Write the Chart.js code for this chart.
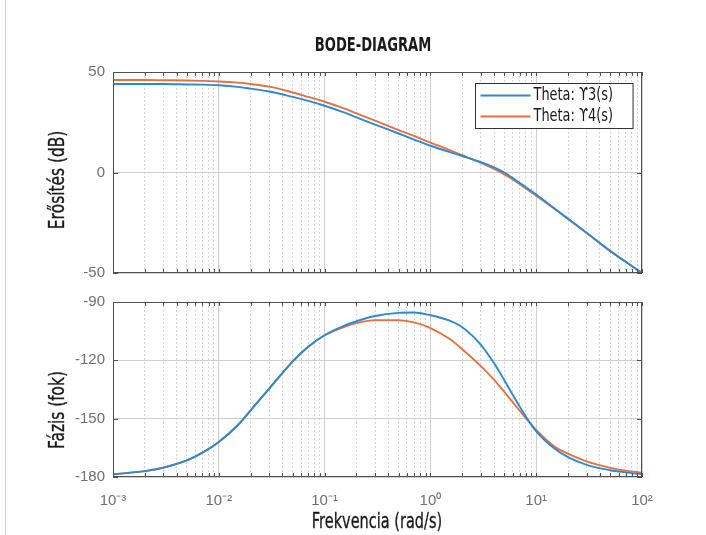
<!DOCTYPE html>
<html>
<head>
<meta charset="utf-8">
<script src="https://cdn.jsdelivr.net/npm/chart.js@4.4.1/dist/chart.umd.min.js"></script>
<style>
  html, body { margin: 0; padding: 0; background: #fff; }
  body { width: 706px; height: 535px; position: relative; overflow: hidden; }
  .edge { position: absolute; left: 5px; top: 0; height: 535px; border-left: 1px solid #d0d0d0; }
  .lbl {
    position: absolute; white-space: nowrap; color: #1a1a1a;
    font-family: "DejaVu Sans", sans-serif; font-size: 22px; line-height: 1;
    -webkit-text-stroke: 0.35px #1a1a1a;
  }
  #title { left: 373px; top: 44px; font-weight: bold; font-size: 19px; -webkit-text-stroke: 0;
    transform: translate(-50%, -50%) scaleX(0.69); }
  #xTitle { left: 377px; top: 521px; transform: translate(-50%, -50%) scaleX(0.66); }
  #gainTitle { left: 57px; top: 180px; transform: translate(-50%, -50%) rotate(-90deg) scaleX(0.7); }
  #phaseTitle { left: 57px; top: 410px; transform: translate(-50%, -50%) rotate(-90deg) scaleX(0.7); }
  canvas { position: absolute; left: 0; }
  #gain { top: 0; }
  #phase { top: 285px; }
</style>
</head>
<body>
<div class="edge"></div>
<canvas id="gain" width="706" height="290"></canvas>
<canvas id="phase" width="706" height="250"></canvas>
<div class="lbl" id="title">BODE-DIAGRAM</div>
<div class="lbl" id="gainTitle">Erősítés (dB)</div>
<div class="lbl" id="phaseTitle">Fázis (fok)</div>
<div class="lbl" id="xTitle">Frekvencia (rad/s)</div>
<script>
// frekvencia (rad/s)
const freqs = [0.001, 0.002, 0.003, 0.005, 0.007, 0.01, 0.015, 0.02, 0.03, 0.05, 0.07,
  0.1, 0.15, 0.2, 0.3, 0.5, 0.7, 1, 1.5, 2, 3, 4, 5, 6, 7, 8, 10, 15, 20, 30, 50, 70, 100];

// erősítés (dB)
const gainY3 = [44.0, 44.0, 44.0, 43.8, 43.7, 43.4, 42.6, 41.7, 40.3, 37.6, 35.6,
  33.2, 30.0, 27.4, 23.8, 19.4, 16.4, 13.3, 10.3, 8.2, 5.2, 2.6, 0.0, -2.8, -5.2, -7.3,
  -11.0, -18.0, -23.0, -30.0, -39.0, -44.4, -50.0];
const gainY4 = [46.0, 46.0, 45.9, 45.8, 45.6, 45.3, 44.7, 44.0, 42.7, 39.8, 37.6,
  35.2, 32.0, 29.4, 25.8, 21.1, 18.2, 14.9, 11.3, 8.6, 4.8, 1.8, -0.9, -3.4, -5.8, -7.9,
  -11.5, -18.2, -23.1, -30.1, -39.0, -44.4, -50.0];

// fázis (fok)
const phaseY3 = [-178.6, -177.0, -175.2, -171.5, -167.5, -162.0, -153.5, -145.7, -134.5, -120.5, -113.0,
  -107.1, -102.4, -99.9, -97.2, -95.6, -95.4, -96.8, -99.5, -103.0, -112.0, -121.5, -130.2, -137.7, -143.9, -149.0,
  -156.5, -165.5, -169.8, -173.8, -176.5, -177.6, -178.6];
const phaseY4 = [-178.6, -177.0, -175.2, -171.5, -167.5, -162.0, -153.5, -145.7, -134.5, -120.5, -113.0,
  -107.1, -103.0, -100.9, -99.3, -99.4, -100.5, -103.4, -108.8, -114.3, -123.0, -130.0, -136.2, -141.5, -146.0, -149.8,
  -155.8, -164.5, -168.0, -172.0, -175.3, -176.7, -177.8];

const legendLabels = ["Theta: \u03D23(s)", "Theta: \u03D24(s)"];
const decades = [0.001, 0.01, 0.1, 1, 10, 100];
const decadeLabels = ["10\u207B\u00B3", "10\u207B\u00B2", "10\u207B\u00B9", "10\u2070", "10\u00B9", "10\u00B2"];
const gainTicks = [-50, 0, 50];
const phaseTicks = [-180, -150, -120, -90];

const BLUE = "#2b8ad2";
const ORANGE = "#e8703f";
const PLAIN = "'Liberation Sans', Arial, sans-serif";

// 1..9 x 10^n osztások a dekádok között
const xTickValues = [];
decades.forEach((d, i) => {
  if (i === decades.length - 1) { xTickValues.push(d); return; }
  for (let m = 1; m <= 9; m++) xTickValues.push(+(m * d).toPrecision(3));
});

function isDecade(v) {
  const l = Math.log10(v);
  return Math.abs(l - Math.round(l)) < 1e-6;
}

function pairs(ys) {
  return freqs.map((f, i) => ({ x: f, y: ys[i] }));
}

function xScale(showLabels) {
  return {
    type: "logarithmic",
    min: decades[0],
    max: decades[decades.length - 1],
    afterBuildTicks: (s) => { s.ticks = xTickValues.map((v) => ({ value: v })); },
    afterFit: (s) => { s.height = showLabels ? 58 : 0; },
    ticks: {
      display: showLabels,
      autoSkip: false,
      maxRotation: 0,
      padding: 15,
      color: "#707070",
      font: { family: PLAIN, size: 15 },
      callback: (v) => {
        const k = decades.findIndex((d) => Math.abs(d - v) / d < 1e-6);
        return k >= 0 ? decadeLabels[k] : "";
      },
    },
    grid: {
      drawTicks: false,
      lineWidth: 1,
      color: (c) => (c.tick && isDecade(c.tick.value) ? "#cfcfcf" : "#d6d6d6"),
    },
    border: {
      display: false,
      dash: (c) => (c.tick && isDecade(c.tick.value) ? [] : [2, 2]),
    },
  };
}

function yScale(vals) {
  return {
    min: vals[0],
    max: vals[vals.length - 1],
    afterBuildTicks: (s) => { s.ticks = vals.map((v) => ({ value: v })); },
    afterFit: (s) => { s.width = 113; },
    ticks: {
      padding: 8,
      color: "#707070",
      font: { family: PLAIN, size: 15 },
      callback: (v) => String(v),
    },
    grid: { drawTicks: false, color: "#cfcfcf", lineWidth: 1 },
    border: { display: false },
  };
}

// keret + befelé mutató osztásjelek
const axesBox = {
  id: "axesBox",
  afterDraw(chart) {
    const { ctx, chartArea: a, scales } = chart;
    ctx.save();
    ctx.strokeStyle = "#505050";
    ctx.lineWidth = 1;
    ctx.beginPath();
    scales.x.ticks.forEach((t) => {
      const x = Math.round(scales.x.getPixelForValue(t.value)) + 0.5;
      ctx.moveTo(x, a.bottom); ctx.lineTo(x, a.bottom - 4);
      ctx.moveTo(x, a.top); ctx.lineTo(x, a.top + 4);
    });
    scales.y.ticks.forEach((t) => {
      const y = Math.round(scales.y.getPixelForValue(t.value)) + 0.5;
      ctx.moveTo(a.left, y); ctx.lineTo(a.left + 5, y);
      ctx.moveTo(a.right, y); ctx.lineTo(a.right - 5, y);
    });
    ctx.stroke();
    ctx.strokeRect(Math.round(a.left) + 0.5, Math.round(a.top) + 0.5,
      Math.round(a.right - a.left) - 1, Math.round(a.bottom - a.top) - 1);
    ctx.restore();
  },
};

// jelmagyarázat a rajzterület jobb felső sarkában
const boxLegend = {
  id: "boxLegend",
  afterDraw(chart, args, opts) {
    if (!opts.show) return;
    const { ctx, chartArea: a } = chart;
    const sets = chart.data.datasets;
    const squeeze = 0.76;
    ctx.save();
    ctx.font = "17px 'DejaVu Sans', sans-serif";
    const tw = Math.max(...sets.map((d) => ctx.measureText(d.label).width)) * squeeze;
    const w = 5 + 50 + 3 + tw + 20;
    const h = 45;
    const x0 = Math.round(a.right - 9 - w) + 0.5;
    const y0 = Math.round(a.top + 11) + 0.5;
    ctx.fillStyle = "#fff";
    ctx.fillRect(x0, y0, w, h);
    ctx.strokeStyle = "#333";
    ctx.lineWidth = 1;
    ctx.strokeRect(x0, y0, w, h);
    sets.forEach((d, i) => {
      const cy = y0 + 12 + i * 21;
      ctx.strokeStyle = d.borderColor;
      ctx.lineWidth = 2;
      ctx.beginPath();
      ctx.moveTo(x0 + 5, cy); ctx.lineTo(x0 + 55, cy);
      ctx.stroke();
      ctx.save();
      ctx.translate(x0 + 58, cy);
      ctx.scale(squeeze, 1);
      ctx.fillStyle = "#1a1a1a";
      ctx.textBaseline = "middle";
      ctx.fillText(d.label, 0, 0);
      ctx.restore();
    });
    ctx.restore();
  },
};

function lineSet(label, ys, color) {
  return {
    label,
    data: pairs(ys),
    borderColor: color,
    borderWidth: 1.9,
    pointRadius: 0,
    cubicInterpolationMode: "monotone",
    fill: false,
  };
}

new Chart(document.getElementById("gain"), {
  type: "line",
  data: {
    datasets: [
      lineSet(legendLabels[0], gainY3, BLUE),
      lineSet(legendLabels[1], gainY4, ORANGE),
    ],
  },
  options: {
    responsive: false,
    animation: false,
    layout: { padding: { top: 72, right: 64, bottom: 12, left: 0 } },
    plugins: { legend: { display: false }, tooltip: { enabled: false }, boxLegend: { show: true } },
    scales: { x: xScale(false), y: yScale(gainTicks) },
  },
  plugins: [axesBox, boxLegend],
});

new Chart(document.getElementById("phase"), {
  type: "line",
  data: {
    datasets: [
      lineSet(legendLabels[0], phaseY3, BLUE),
      lineSet(legendLabels[1], phaseY4, ORANGE),
    ],
  },
  options: {
    responsive: false,
    animation: false,
    layout: { padding: { top: 12, right: 64, bottom: 0, left: 0 } },
    plugins: { legend: { display: false }, tooltip: { enabled: false }, boxLegend: { show: false } },
    scales: { x: xScale(true), y: yScale(phaseTicks) },
  },
  plugins: [axesBox, boxLegend],
});
</script>
</body>
</html>
